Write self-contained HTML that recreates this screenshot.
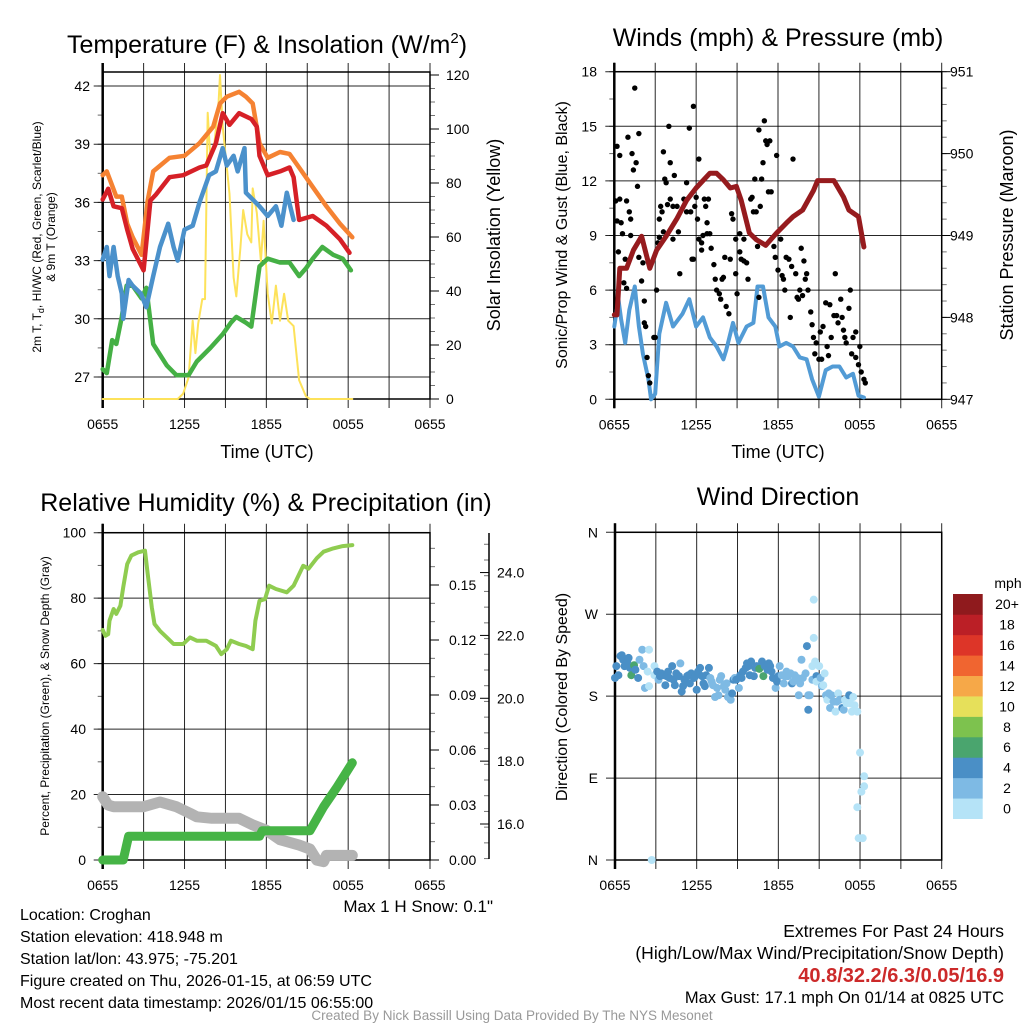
<!DOCTYPE html>
<html><head><meta charset="utf-8"><style>
html,body{margin:0;padding:0;background:#fff}
svg{display:block;font-family:"Liberation Sans",Arial,sans-serif}
</style></head><body>
<svg id="s" width="1024" height="1024" viewBox="0 0 1024 1024" xmlns="http://www.w3.org/2000/svg">
<text x="267" y="53" font-size="25" text-anchor="middle">Temperature (F) &amp; Insolation (W/m<tspan dy="-10" font-size="15">2</tspan><tspan dy="10">)</tspan></text>
<text x="778" y="46" font-size="25" text-anchor="middle">Winds (mph) &amp; Pressure (mb)</text>
<text x="266" y="511" font-size="25" text-anchor="middle">Relative Humidity (%) &amp; Precipitation (in)</text>
<text x="778" y="505" font-size="25" text-anchor="middle">Wind Direction</text>
<text x="267" y="458" font-size="18" text-anchor="middle">Time (UTC)</text>
<text x="778" y="458" font-size="18" text-anchor="middle">Time (UTC)</text>
<text transform="translate(41,237) rotate(-90)" font-size="12" text-anchor="middle">2m T, T<tspan dy="3" font-size="9">d</tspan><tspan dy="-3">, HI/WC (Red, Green, Scarlet/Blue)</tspan></text>
<text transform="translate(55,237) rotate(-90)" font-size="12" text-anchor="middle">&amp; 9m T (Orange)</text>
<text transform="translate(500,235) rotate(-90)" font-size="18" text-anchor="middle">Solar Insolation (Yellow)</text>
<text transform="translate(567,235) rotate(-90)" font-size="16" text-anchor="middle">Sonic/Prop Wind &amp; Gust (Blue, Black)</text>
<text transform="translate(1013,235) rotate(-90)" font-size="18" text-anchor="middle">Station Pressure (Maroon)</text>
<text transform="translate(49,696) rotate(-90)" font-size="12" text-anchor="middle">Percent, Precipitation (Green), &amp; Snow Depth (Gray)</text>
<text transform="translate(567,697) rotate(-90)" font-size="16" text-anchor="middle">Direction (Colored By Speed)</text>
<text x="493" y="912" font-size="17" text-anchor="end">Max 1 H Snow: 0.1"</text>
<g font-size="16">
<text x="20" y="920">Location: Croghan</text>
<text x="20" y="942">Station elevation: 418.948 m</text>
<text x="20" y="964">Station lat/lon: 43.975; -75.201</text>
<text x="20" y="986">Figure created on Thu, 2026-01-15, at 06:59 UTC</text>
<text x="20" y="1008">Most recent data timestamp: 2026/01/15 06:55:00</text>
</g>
<g text-anchor="end">
<text x="1004" y="937" font-size="17.5">Extremes For Past 24 Hours</text>
<text x="1004" y="959" font-size="17.5">(High/Low/Max Wind/Precipitation/Snow Depth)</text>
<text x="1004" y="982" font-size="20" fill="#cc2a2a" font-weight="bold">40.8/32.2/6.3/0.05/16.9</text>
<text x="1004" y="1003" font-size="16.5">Max Gust: 17.1 mph On 01/14 at 0825 UTC</text>
</g>
<text x="512" y="1020" font-size="13.5" fill="#999" text-anchor="middle">Created By Nick Bassill Using Data Provided By The NYS Mesonet</text>
</svg>
<script>
// ---------- data ----------
const xTickLabels = ["0655","1255","1855","0055","0655"];
const tempTicks = [27,30,33,36,39,42];
const insolTicks = [0,20,40,60,80,100,120];
const windTicks = [0,3,6,9,12,15,18];
const presTicks = [947,948,949,950,951];
const rhTicks = [0,20,40,60,80,100];
const precipTicks = ["0.00","0.03","0.06","0.09","0.12","0.15"];
const snowTicks = ["16.0","18.0","20.0","22.0","24.0"];
const dirTickLabels = ["N","E","S","W","N"];
const speedBinLabels = ["0","2","4","6","8","10","12","14","16","18","20+"];
const speedBinColors = ["#b5e3f7","#7ebae4","#4a8fc6","#4aa56e","#7dc24e","#e6e05a","#f6a848","#f06530","#dd3528","#bb1f26","#8f1a1d"];

const t9H = [0,0.3,1,1.4,1.8,2.2,2.85,3.3,3.7,4.9,6,7.1,8.1,8.6,9.1,10,10.5,11,11.5,12.1,13,13.7,14.4,15.4,16.4,17.4,18.3];
const t9V = [37.4,37.6,36.3,36.3,34.9,34.2,33.3,36.1,37.6,38.3,38.4,39.05,39.9,41.1,41.45,41.7,41.45,41.1,39.05,38.3,38.6,38.5,37.8,36.8,35.8,34.9,34.2];
const t2H = [0,0.4,0.8,1.4,1.8,2.2,3,3.5,3.9,4.9,5.9,7.1,7.6,8.3,8.8,9.3,10,10.9,11.3,11.5,12.1,13,13.7,14,14.4,15.4,16.4,17.4,18.1];
const t2V = [36.15,36.7,35.8,35.7,34.6,33.6,32.5,36.1,36.4,37.3,37.4,37.8,37.9,39.05,40.6,40.0,40.6,40.3,39.9,38.4,37.4,37.6,37.8,37.3,35.1,35.3,34.8,34.1,33.4];
const hiH = [0,0.3,0.5,0.8,1.1,1.4,1.5,1.9,2.2,2.8,3.2,3.7,4.2,4.8,5.2,5.5,6,6.6,7.1,7.8,8.3,8.8,9.1,9.6,9.9,10.4,10.5,11.5,12.1,12.7,13.1,13.5,14];
const hiV = [33.05,33.7,32.2,33.7,32.2,31.3,30,32,31.7,31.3,30.6,32.2,33.7,34.9,33.7,33,34.6,34.8,36,37.4,37.6,38.8,37.9,38.4,37.6,38.8,36.5,35.8,35.3,35.8,34.8,36.5,35.1];
const tdH = [0,0.3,0.7,1,1.4,1.75,2.2,2.85,3.2,3.7,4.7,5.4,6.3,6.9,7.9,8.8,9.4,9.8,10.5,10.9,11.5,12.1,13,13.7,14.4,14.9,15.4,16.1,16.9,17.6,18.2];
const tdV = [27.4,27.2,28.9,28.7,30.1,31.7,31.7,31.05,31.6,28.7,27.6,27.1,27.1,27.8,28.5,29.2,29.8,30.1,29.8,29.6,32.7,33.1,32.9,32.9,32.2,32.6,33.1,33.7,33.3,33.1,32.5];
const solH = [0,5.5,5.9,6.3,6.6,6.8,7,7.3,7.5,7.7,7.9,8.2,8.5,8.6,8.8,9,9.3,9.6,9.8,10.1,10.3,10.6,10.9,11,11.3,11.6,11.8,12.1,12.4,12.7,13,13.3,13.6,14,14.4,14.9,15.2,18.3];
const solV = [0,0,2,8,29,17,28,37,37,106,89,95,110,120,101,91,76,45,38,56,70,61,58,78,69,51,66,39,28,42,29,39,29,27,7,1,0,0];

const presH = [0,0.2,0.4,0.9,1.4,2,2.6,3.1,3.8,4.6,5.3,6,7,7.5,8,8.5,8.95,9.3,9.9,10.4,11.1,11.9,12.6,13.1,13.8,14.6,14.9,15.5,16.1,16.8,17.2,17.9,18.3];
const presV = [948.03,948.03,948.6,948.6,948.82,948.99,948.6,948.82,948.99,949.21,949.43,949.58,949.76,949.76,949.68,949.58,949.6,949.43,949.03,948.95,948.88,949.03,949.15,949.23,949.31,949.55,949.67,949.67,949.67,949.47,949.31,949.23,948.86];
const windH = [0,0.3,0.5,0.8,1.1,1.5,1.8,2.1,2.5,2.7,3,3.3,3.8,4.3,5,5.5,6,6.5,7,7.5,8,8.2,8.7,9.1,9.7,10.2,10.5,10.9,11.3,11.8,12.1,12.6,13.1,13.6,14.1,14.5,15,15.5,16,16.5,17,17.5,17.9,18.3];
const windV = [4,5.5,4.4,3.1,4.9,6.2,4,2.5,1.1,0,0.3,3.6,5.3,4,4.7,5.5,4,4.5,3.4,2.9,2.2,2.7,4.2,3.1,4,4.2,6.2,6.2,4.5,4,2.9,3.1,2.9,2.3,2.2,1.1,0.15,1.6,1.8,1.8,1.2,1.4,0.2,0.1];
const gustH = [0.1,0.2,0.2,0.3,0.4,0.4,0.5,0.6,0.7,0.8,0.9,0.9,1.0,1.1,1.2,1.2,1.3,1.4,1.5,1.6,1.7,1.8,1.8,2.0,2.1,2.2,2.2,2.3,2.4,2.5,2.6,2.9,3.0,3.1,3.2,3.3,3.3,3.4,3.5,3.6,3.6,3.7,3.8,3.9,4.0,4.1,4.1,4.3,4.3,4.4,4.6,4.7,4.8,5.1,5.3,5.3,5.5,5.6,5.7,5.8,5.8,5.9,6.0,6.1,6.2,6.2,6.4,6.4,6.5,6.6,6.7,6.8,6.8,6.9,7.0,7.1,7.3,7.4,7.5,7.7,7.8,7.9,8.0,8.1,8.2,8.4,8.5,8.6,8.7,8.9,8.9,9.0,9.2,9.2,9.3,9.5,9.5,9.7,9.8,10.0,10.1,10.2,10.3,10.4,10.5,10.6,10.6,10.7,10.8,10.9,11.0,11.1,11.2,11.3,11.4,11.5,11.7,11.8,11.9,12.0,12.2,12.3,12.4,12.5,12.6,12.8,12.9,13.0,13.1,13.3,13.4,13.5,13.6,13.7,13.8,13.9,14.0,14.1,14.2,14.4,14.5,14.6,14.7,14.8,15.0,15.1,15.2,15.3,15.5,15.6,15.7,15.8,15.9,16.1,16.2,16.3,16.4,16.6,16.7,16.8,16.9,17.0,17.2,17.3,17.4,17.5,17.7,17.7,17.9,18.0,18.1,18.3,18.4];
const gustV = [10.9,13.9,9.8,8.1,11,13.4,9.7,9.1,6.4,7.7,6.1,10.9,14.4,10.3,9.9,9,13.5,12.6,17.1,13,11.7,14.6,7.8,6.5,7.5,5.4,4.2,4,2.3,1.3,0.9,3.4,3.4,6,8.6,8.9,9.9,10.6,10.3,9.2,13.6,12.1,11.9,10.7,15,11,13,8.8,10.6,12.3,10.6,9.2,6.9,11,10.3,11.9,14.9,10.3,7.7,16.1,7.7,10.6,11.1,9.9,8.8,13.2,8.2,8.6,9,11,10.6,9.7,9.1,11,9.1,8.3,7.4,6.6,6,5.8,5.5,6.6,6.7,7.8,5.1,4.7,7.7,10.2,9.9,8.8,6.9,5.8,8.1,9.1,7.7,8.8,7.6,7.5,6.6,11,11.1,10.3,12.1,10.3,8.4,5.6,14.8,10.6,12.1,13,15.3,14.2,14,11.4,14.2,11.4,8.4,7.8,13.4,7.1,8.8,6.8,6.6,6,7.8,7.7,4.5,7.3,13.2,6.9,5.6,5.5,6,8.3,5.7,7.6,6.6,6.9,6,4.8,4.1,3.4,2.5,3.1,2.2,3.7,2.2,4,5.3,2.9,2.4,5.2,3.4,4.6,6.9,4.6,4.2,5.5,4.5,3.8,3.4,3.1,5,6,2.5,3.4,3.7,2.3,1.9,2.9,1.5,1.1,0.9];

const rhH = [0,0.2,0.4,0.5,0.8,1,1.3,1.5,1.8,2.1,2.6,3.1,3.3,3.6,3.8,4.2,4.7,5.2,5.9,6.4,6.9,7.6,8.3,8.7,9.1,9.4,10,10.5,11,11.2,11.5,11.9,12.2,12.7,13.5,14,14.3,14.7,15.1,15.7,16.2,16.9,17.6,18.3];
const rhV = [70.3,68.5,69,73.1,76.7,75.2,77.7,83.3,90.4,93,94,94.5,87.4,77.2,72.1,70,68,66,66,68,67,67,65.4,62.9,64.4,67,66,65.4,64.4,73.1,79.2,79.7,83.8,82.8,81.8,83.8,86.4,89.9,89,92.2,94.2,95.2,95.9,96.2];
const precipH = [0,1.5,1.9,11.5,11.7,15.2,16.2,17.2,18.3];
const precipV = [0,0,0.013,0.013,0.016,0.016,0.029,0.04,0.053];
const snowH = [0,0.4,0.8,3,4.2,5.4,6.4,6.9,8,10,11,12,13,14.4,15.2,15.7,16.2,16.4,18.3];
const snowV = [16.87,16.6,16.55,16.55,16.7,16.55,16.34,16.23,16.18,16.18,15.97,15.8,15.5,15.33,15.2,14.85,14.8,15.0,15.0];

const dirH = [0,0.1,0.25,0.4,0.5,0.6,0.7,0.9,1.0,1.1,1.2,1.4,1.5,1.7,1.8,2.0,2.1,2.2,2.4,2.5,2.5,2.7,2.9,2.9,3.1,3.2,3.3,3.4,3.6,3.7,3.8,3.9,4.0,4.2,4.3,4.4,4.5,4.7,4.8,4.9,5.0,5.1,5.3,5.4,5.5,5.6,5.8,5.9,6.0,6.1,6.25,6.4,6.5,6.6,6.7,6.9,7.0,7.1,7.2,7.35,7.5,7.6,7.7,7.8,8.0,8.1,8.2,8.3,8.5,8.6,8.7,8.8,8.9,9.1,9.2,9.3,9.4,9.6,9.7,9.8,9.9,10.0,10.2,10.3,10.4,10.6,10.8,10.9,11.0,11.2,11.3,11.4,11.5,11.6,11.8,11.9,12.0,12.1,12.25,12.4,12.5,12.6,12.7,12.9,13.0,13.1,13.2,13.4,13.5,13.6,13.7,13.8,14.0,14.1,14.2,14.2,14.3,14.5,14.5,14.6,14.6,14.7,14.8,14.8,15.0,15.1,15.2,15.3,15.4,15.5,15.6,15.7,15.8,15.9,16.05,16.2,16.3,16.4,16.5,16.7,16.8,16.9,17.0,17.2,17.3,17.4,17.5,17.6,17.8,17.8,17.9,18.0,18.1,18.2,18.3,18.3];
const dirV = [200,213,203,224,225,220,213,218,222,211,203,214,209,200,220,231,213,189,207,191,231,0,213,203,207,198,202,205,203,192,202,207,200,213,198,192,205,202,216,185,191,198,202,203,194,205,200,202,187,207,211,202,194,191,203,211,200,196,192,179,189,181,198,202,191,187,194,179,176,183,198,200,198,189,203,200,207,211,216,213,203,218,202,211,213,210,218,202,213,209,216,213,207,200,189,196,202,213,203,194,202,207,202,205,194,196,203,200,181,194,220,200,205,235,181,165,181,198,213,286,244,218,202,196,213,200,191,192,205,181,176,183,167,181,174,163,174,183,176,167,165,176,172,181,172,163,179,170,163,58,24,118,75,24,81,92];
const dirS = [5,5,5,5,5,5,5,5,5,5,7,7,5,5,3,3,3,3,1,1,1,1,1,1,5,3,5,5,5,5,5,5,5,5,5,5,5,5,3,5,5,5,5,5,5,5,5,5,5,5,5,5,5,5,5,5,3,3,3,3,3,3,3,3,3,3,3,3,3,5,5,3,5,3,5,5,5,5,5,5,5,5,5,5,5,7,5,7,5,5,5,5,5,5,3,5,5,3,3,3,3,3,3,3,5,3,3,3,3,3,3,3,3,5,3,5,3,3,1,1,1,1,5,1,1,3,3,1,1,3,1,3,3,3,3,1,3,1,3,5,3,1,1,5,1,1,1,1,1,1,1,1,1,1,1,1];

// ---------- helpers ----------
const NS = "http://www.w3.org/2000/svg";
const svg = document.getElementById("s");
function mk(tag, attrs, parent){
  const e = document.createElementNS(NS, tag);
  for (const k in attrs) e.setAttribute(k, attrs[k]);
  (parent || svg).appendChild(e);
  return e;
}
function pathD(xs, ys){ let d=""; for(let i=0;i<xs.length;i++){ d += (i?"L":"M") + xs[i].toFixed(1) + "," + ys[i].toFixed(1); } return d; }

function frame(P, name){
  const g = mk("g", {});
  
  
  return g;
}
function vgrid(P, g, labels){
  for (let i=0;i<=8;i++){
    const x = P.L + i*(P.R-P.L)/8;
    const ln = mk("line",{x1:x,y1:P.T-9,x2:x,y2:P.B+9,stroke:"#000","stroke-width":1,"stroke-opacity":0.85}, g);
    
    
  }
  labels.forEach((lab,i)=>{
    const x = P.L + i*(P.R-P.L)/4;
    const t = mk("text",{x:x,y:P.B+30,"font-size":14,"text-anchor":"middle"}, g);
    t.textContent = lab;
    
    
  });
}
function hgridLeft(P, g, vals, yf, labels, minorStep, lo, hi, lx){
  vals.forEach((v,i)=>{
    const y = yf(v);
    const ln = mk("line",{x1:P.L-9,y1:y,x2:P.R,y2:y,stroke:"#000","stroke-width":1,"stroke-opacity":0.85}, g);
    
    
    const t = mk("text",{x:lx,y:y+5,"font-size":14,"text-anchor":"end"}, g);
    t.textContent = labels ? labels[i] : v;
    
    
  });
  if (minorStep){
    for (let v=lo; v<=hi+1e-9; v+=minorStep){
      const y = yf(v); if (y<P.T-1||y>P.B+1) continue;
      const m = mk("line",{x1:P.L-5,y1:y,x2:P.L,y2:y,stroke:"#000","stroke-width":1,"stroke-opacity":0.6}, g);
      
      
    }
  }
}
function rightAxis(P, g, ax, vals, yf, labels, minorStep, lo, hi, lx, side){
  vals.forEach((v,i)=>{
    const y = yf(v);
    const tk = mk("line",{x1:ax-(side<0?9:0),y1:y,x2:ax+(side<0?0:9),y2:y,stroke:"#000","stroke-width":1}, g);
    
    
    const t = mk("text",{x:lx,y:y+5,"font-size":14,"text-anchor":"start"}, g);
    t.textContent = labels[i];
    
    
  });
  for (let v=lo; v<=hi+1e-9; v+=minorStep){
    const y = yf(v);
    const m = mk("line",{x1:ax-(side<0?5:0),y1:y,x2:ax+(side<0?0:5),y2:y,stroke:"#000","stroke-width":1,"stroke-opacity":0.55}, g);
    
    
  }
}
function box(P, g){
  const r = mk("rect",{x:P.L,y:P.T,width:P.R-P.L,height:P.B-P.T,fill:"none",stroke:"#000","stroke-width":1.5}, g);
  
  
  const la = mk("line",{x1:P.L,y1:P.T-9,x2:P.L,y2:P.B+9,stroke:"#000","stroke-width":2.5}, g);
  
  
}
function line(g, xs, ys, color, w, name){
  const p = mk("path",{d:pathD(xs,ys),fill:"none",stroke:color,"stroke-width":w,"stroke-linejoin":"round","stroke-linecap":"round"}, g);
  
  
}

// ---------- panel 1: temperature ----------
const P1 = {L:102.7,R:430,T:72,B:399};
const x1 = h => P1.L + h/24*(P1.R-P1.L);
const yT = v => 377 - (v-27)*19.4;
const yI = v => 399 - v*2.7;
const g1 = frame(P1,'temperature-panel');
vgrid(P1, g1, xTickLabels);
hgridLeft(P1, g1, tempTicks, yT, null, 1.5, 25.5, 42.5, 90);
rightAxis(P1, g1, P1.R, insolTicks, yI, insolTicks, 5, 0, 120, 446, 1);
box(P1, g1);
line(g1, solH.map(x1), solV.map(yI), "#fde25a", 2, 'insolation-line');
line(g1, tdH.map(x1), tdV.map(yT), "#45b045", 4.5, 'dewpoint-line');
line(g1, hiH.map(x1), hiV.map(yT), "#4b91cb", 4.5, 'windchill-line');
line(g1, t9H.map(x1), t9V.map(yT), "#f58232", 4.5, 'temp-9m-line');
line(g1, t2H.map(x1), t2V.map(yT), "#d62027", 4.5, 'temp-2m-line');

// ---------- panel 2: winds ----------
const P2 = {L:614.3,R:941.7,T:71.7,B:399.3};
const x2 = h => P2.L + h/24*(P2.R-P2.L);
const yW = v => P2.B - v*(P2.B-P2.T)/18;
const yP = v => P2.B - (v-947)*(P2.B-P2.T)/4;
const g2 = frame(P2,'winds-panel');
vgrid(P2, g2, xTickLabels);
hgridLeft(P2, g2, windTicks, yW, null, 1.5, 0, 18, 597);
rightAxis(P2, g2, P2.R, presTicks, yP, presTicks, 0.2, 947, 951, 950, 1);
box(P2, g2);
line(g2, windH.map(x2), windV.map(yW), "#529bd5", 4, 'sonic-wind-line');
gustH.forEach((h,i)=>{
  const c = mk("circle",{cx:x2(h),cy:yW(gustV[i]),r:2.7,fill:"#000"}, g2);
  
  
});
line(g2, presH.map(x2), presV.map(yP), "#961b1e", 5, 'pressure-line');

// ---------- panel 3: humidity ----------
const P3 = {L:102.7,R:430,T:532.7,B:860};
const x3 = h => P3.L + h/24*(P3.R-P3.L);
const yR = v => P3.B - v*(P3.B-P3.T)/100;
const yPr = v => P3.B - v*(55/0.03);
const yS = v => 824 - (v-16)*31.43;
const g3 = frame(P3,'humidity-panel');
vgrid(P3, g3, xTickLabels);
hgridLeft(P3, g3, rhTicks, yR, null, 10, 0, 100, 86);
rightAxis(P3, g3, P3.R, precipTicks.map(Number), yPr, precipTicks, 0.01, 0, 0.178, 449, 1);
const sax = mk("line",{x1:489,y1:533,x2:489,y2:859,stroke:"#000","stroke-width":1.5}, g3);


rightAxis(P3, g3, 489, snowTicks.map(Number), yS, snowTicks, 0.5, 14.9, 25.3, 497, -1);
box(P3, g3);
line(g3, snowH.map(x3), snowV.map(yS), "#b3b3b3", 11, 'snow-depth-line');
line(g3, precipH.map(x3), precipV.map(yPr), "#46b446", 9, 'precipitation-line');
line(g3, rhH.map(x3), rhV.map(yR), "#8fcc50", 4, 'humidity-line');

// ---------- panel 4: wind direction ----------
const P4 = {L:615,R:941.7,T:532.3,B:860};
const x4 = h => P4.L + h/24*(P4.R-P4.L);
const yD = v => P4.B - v*(P4.B-P4.T)/360;
const g4 = frame(P4,'wind-direction-panel');
vgrid(P4, g4, xTickLabels);
hgridLeft(P4, g4, [0,90,180,270,360], yD, dirTickLabels, 0, 0, 0, 598);
box(P4, g4);
function binColor(s){ const i = Math.min(10, Math.max(0, Math.floor(s/2))); return speedBinColors[i]; }
dirH.forEach((h,i)=>{
  const c = mk("circle",{cx:x4(h),cy:yD(dirV[i]),r:4,fill:binColor(dirS[i])}, g4);
  
  
});
// legend
const lg = mk("g",{});


const lt = mk("text",{x:1008,y:588,"font-size":14,"text-anchor":"middle"}, lg);
lt.textContent = "mph";


const bh = (818.7-594)/11;
speedBinLabels.forEach((lab,i)=>{
  const y = 594 + (10-i)*bh;
  const r = mk("rect",{x:953,y:y,width:29.7,height:bh+0.3,fill:speedBinColors[i]}, lg);
  
  
  const t = mk("text",{x:1007,y:y+bh/2+5,"font-size":14,"text-anchor":"middle"}, lg);
  t.textContent = lab;
  
  
});
</script>
</body></html>
